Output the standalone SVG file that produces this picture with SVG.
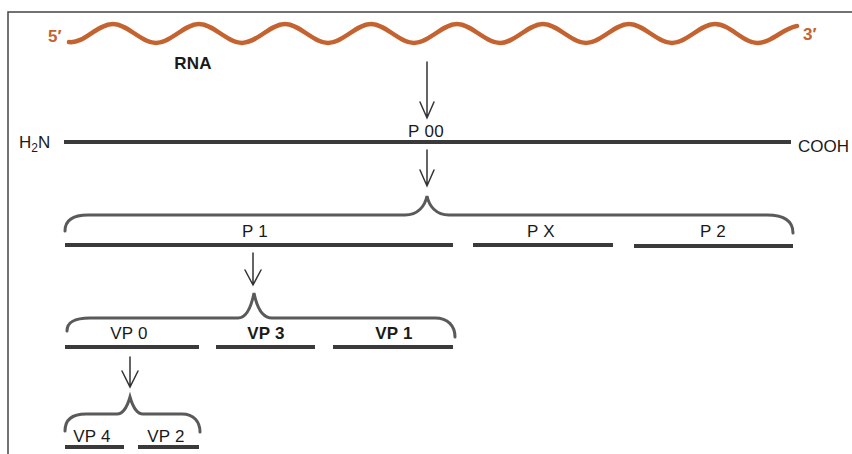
<svg xmlns="http://www.w3.org/2000/svg" width="852" height="454" viewBox="0 0 852 454">
  <style>
    .lbl { font-family: "Liberation Sans", Arial, sans-serif; font-size: 17px; fill: #1a1a1a; letter-spacing: 0.3px; text-anchor: middle; }
    .bold { font-weight: bold; }
    .end { font-family: "Liberation Sans", Arial, sans-serif; font-size: 17px; fill: #1a1a1a; }
    .prime { font-family: "Liberation Sans", Arial, sans-serif; font-size: 17px; font-weight: bold; fill: #c4632f; }
    .bar { stroke: #3a3a3a; stroke-width: 4; stroke-linecap: butt; fill: none; }
    .brace { stroke: #5a5a5a; stroke-width: 3; fill: none; stroke-linecap: round; }
    .arrow { stroke: #333; stroke-width: 1.5; fill: none; stroke-linecap: round; stroke-linejoin: miter; }
  </style>

  <!-- frame -->
  <path d="M8,454 V12 H852" fill="none" stroke="#444" stroke-width="1.5"/>

  <!-- RNA strand -->
  <g id="rna">
    <path d="M69,42 C84,44 97,24 113,24 C128,24 141,43 156,43 C171,43 184,24 199,24 C214,24 227,43 242,43 C257,43 270,24 285,24 C300,24 313,43 328,43 C343,43 356,24 371,24 C386,24 399,43 414,43 C429,43 442,24 457,24 C472,24 485,43 500,43 C515,43 528,24 543,24 C558,24 571,43 586,43 C601,43 614,24 629,24 C644,24 657,43 672,43 C687,43 700,24 715,24 C730,24 743,43 757,43 C772,43 783,28 797,26" fill="none" stroke="#c4632f" stroke-width="4.5" stroke-linecap="round"/>
    <text class="prime" x="48" y="42">5′</text>
    <text class="prime" x="803" y="40">3′</text>
    <text class="lbl bold" x="193" y="69">RNA</text>
  </g>

  <!-- polyprotein P 00 -->
  <g id="p00">
    <line class="bar" x1="64" y1="142" x2="791" y2="142"/>
    <text class="lbl" x="426" y="137">P 00</text>
    <text class="end" x="19" y="148">H<tspan font-size="12" dy="4">2</tspan><tspan dy="-4">N</tspan></text>
    <text class="end" x="798" y="152">COOH</text>
  </g>

  <!-- first cleavage products -->
  <g id="p1">
    <line class="bar" x1="65" y1="245" x2="453" y2="245"/>
    <text class="lbl" x="255" y="237">P 1</text>
  </g>
  <g id="px">
    <line class="bar" x1="473" y1="245" x2="613" y2="245"/>
    <text class="lbl" x="541" y="237">P X</text>
  </g>
  <g id="p2">
    <line class="bar" x1="634" y1="246" x2="793" y2="246"/>
    <text class="lbl" x="713" y="237">P 2</text>
  </g>

  <!-- P 1 products -->
  <g id="vp0">
    <line class="bar" x1="65" y1="347" x2="199" y2="347"/>
    <text class="lbl" x="129" y="339">VP 0</text>
  </g>
  <g id="vp3">
    <line class="bar" x1="216" y1="347" x2="315" y2="347"/>
    <text class="lbl bold" x="266" y="339">VP 3</text>
  </g>
  <g id="vp1">
    <line class="bar" x1="333" y1="347" x2="453" y2="347"/>
    <text class="lbl bold" x="394" y="339">VP 1</text>
  </g>

  <!-- VP 0 products -->
  <g id="vp4">
    <line class="bar" x1="65" y1="447" x2="124" y2="447"/>
    <text class="lbl" x="92" y="442">VP 4</text>
  </g>
  <g id="vp2">
    <line class="bar" x1="138" y1="447" x2="199" y2="447"/>
    <text class="lbl" x="166" y="442">VP 2</text>
  </g>

  <!-- arrows and braces -->
  <g id="connectors">
    <path class="arrow" d="M427,62 V118 M420,102 L427,118 L434,102"/>
    <path class="arrow" d="M427,150 V186 M420,170 L427,186 L434,170"/>
    <path class="arrow" d="M253,253 V285 M245,270 L253,285 L261,270"/>
    <path class="arrow" d="M130,357 V387 M122,371 L130,387 L138,371"/>

    <path class="brace" d="M65,231 C65,221 72,215 88,215 L405,215 C418,215 425,206 427,196 C429,206 436,215 449,215 L767,215 C785,215 793,222 793,233"/>
    <path class="brace" d="M67,331 C67,322 74,318 90,318 L238,318 C248,318 252,303 254,293 C256,303 260,318 272,318 L435,318 C448,318 455,326 455,337"/>
    <path class="brace" d="M65,431 C65,420 72,414 86,414 L117,414 C124,414 128,404 130,397 C132,404 136,414 143,414 L182,414 C194,414 200,422 200,432"/>
  </g>
</svg>
